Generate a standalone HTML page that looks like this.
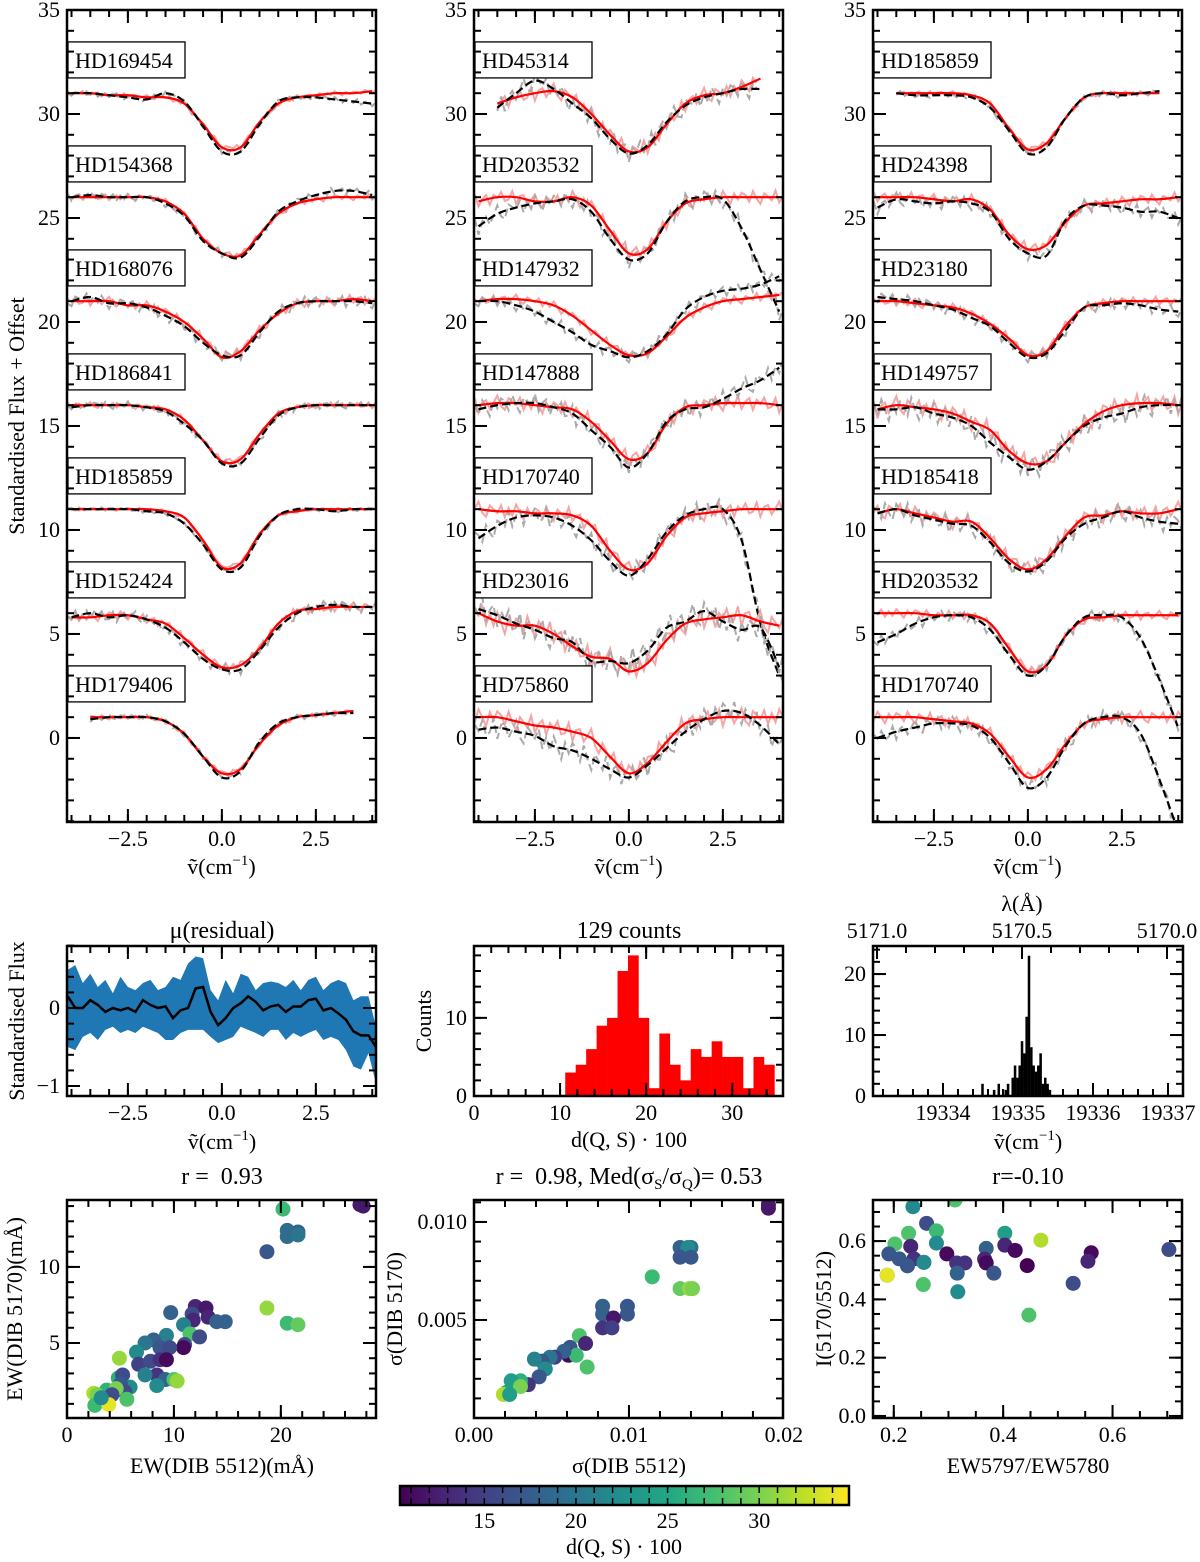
<!DOCTYPE html>
<html><head><meta charset="utf-8">
<style>body{margin:0;background:#fff}svg{display:block;font-family:"Liberation Serif",serif}</style>
</head><body>
<svg id="fig" width="1200" height="1562" viewBox="0 0 1200 1562">
<defs>
<linearGradient id="vir" x1="0" x2="1" y1="0" y2="0">
<stop offset="0" stop-color="#440154"/><stop offset="0.1" stop-color="#482475"/><stop offset="0.2" stop-color="#414487"/><stop offset="0.3" stop-color="#355f8d"/><stop offset="0.4" stop-color="#2a788e"/><stop offset="0.5" stop-color="#21918c"/><stop offset="0.6" stop-color="#22a884"/><stop offset="0.7" stop-color="#44bf70"/><stop offset="0.8" stop-color="#7ad151"/><stop offset="0.9" stop-color="#bddf26"/><stop offset="1" stop-color="#fde725"/>
</linearGradient>
</defs>
</svg>
<script>
// ---------- DATA ----------
const specNames = [
 ["HD169454","HD154368","HD168076","HD186841","HD185859","HD152424","HD179406"],
 ["HD45314","HD203532","HD147932","HD147888","HD170740","HD23016","HD75860"],
 ["HD185859","HD24398","HD23180","HD149757","HD185418","HD203532","HD170740"]];
// spectra sampled at x = -4 .. 4 step 0.5 (17 values); null = no data
const redP1 = [
 [31,31,30.9,30.9,30.8,30.8,30.5,29.5,28.4,28.4,29.6,30.5,30.8,30.9,31,31,31.1],
 [26,26,26,26,26,25.8,25.2,24,23.3,23.2,24.2,25.2,25.7,25.9,26,26,26],
 [21,21,21,20.8,20.8,20.5,20,19.2,18.3,18.6,19.6,20.4,20.9,21,21,21.1,21],
 [16,16,16,16,15.9,15.8,15.3,14.3,13.3,13.4,14.6,15.6,15.9,16,16,16,16],
 [11,11,11,11,11,10.9,10.6,9.5,8.2,8.4,9.8,10.7,10.9,11,11,11,11],
 [5.8,5.8,5.9,5.9,5.7,5.5,4.8,4,3.4,3.5,4.3,5.5,6.1,6.2,6.3,6.3,6.3],
 [null,1,1,1,1,0.8,0.2,-0.9,-1.7,-1.5,-0.3,0.6,1,1.1,1.2,1.3,null]];
const blackP1 = [
 [31,31,30.9,30.8,30.7,31,30.6,29.4,28.2,28.2,29.5,30.6,30.8,30.8,30.7,30.6,30.5],
 [26,26.1,26,26,26,25.7,25.1,23.9,23.3,23.1,24.1,25.3,25.8,26.1,26.3,26.3,26.1],
 [21,21.2,20.9,20.9,20.7,20.3,19.8,19,18.4,18.4,19.5,20.5,20.9,21,21,21,20.9],
 [15.9,16,16,16,15.9,15.7,15.1,14.3,13.2,13.2,14.4,15.5,15.9,16,16,16,16],
 [11,11,11,11,10.9,10.8,10.3,9.3,8.1,8.2,9.7,10.7,11,11,10.9,11,11],
 [5.8,6,5.8,5.9,5.7,5.3,4.6,3.8,3.3,3.3,4.2,5.3,6,6.3,6.4,6.3,6.3],
 [null,0.9,1,1,1,0.8,0.2,-0.9,-1.9,-1.6,-0.2,0.7,1,1.1,1.2,1.2,null]];
const redP2 = [
 [null,30.5,30.8,31,31.1,30.8,30,29,28.2,28.4,29.5,30.5,30.9,31,31.3,31.7,null],
 [25.8,26,26,25.8,25.8,26,25.6,24.4,23.3,23.5,24.8,25.7,25.9,26,26,26,26],
 [21,21.1,21.1,21,20.8,20.3,19.6,18.9,18.4,18.5,19.3,20.2,20.7,21,21.1,21.2,21.3],
 [16,16.1,16.1,16,15.9,15.8,15.2,14.3,13.4,13.7,15.1,15.9,16,16.1,16.1,16.1,16],
 [11,10.9,10.9,10.8,10.8,10.7,10.2,9,8.1,8.4,9.7,10.6,10.8,10.9,11,11,11],
 [6,5.6,5.4,5.4,5,4.4,3.9,3.8,3.2,3.6,4.7,5.5,5.7,5.8,5.9,5.6,5.4],
 [1,1,0.8,0.6,0.5,0.3,0,-0.9,-1.7,-1.2,-0.2,0.7,0.9,1,1,1,1]];
const blackP2 = [
 [null,30.3,31,31.6,31.2,30.5,29.8,28.8,28.1,28.5,29.6,30.4,30.8,31,31.2,31.2,null],
 [24.6,25.2,25.5,25.7,25.8,25.9,25.3,24,23,23.3,24.8,25.8,26,25.9,24.5,22.5,20.5],
 [21,21,20.8,20.5,20,19.5,18.9,18.6,18.3,18.6,19.4,20.6,21.2,21.5,21.6,21.8,22.2],
 [15.8,16,16.1,16.1,15.9,15.6,14.8,14,13,13.7,15.2,15.8,15.9,16.3,16.8,17.2,17.8],
 [9.6,10.2,10.6,10.7,10.6,10.2,9.5,8.5,7.8,8.6,9.9,10.7,11,11,9.5,5.5,3],
 [6.2,5.9,5.5,5.2,4.8,4.6,3.7,3.7,3.6,4.2,5.3,5.6,6.1,5.6,5.2,5.3,3.4],
 [0.4,0.5,0.3,0.1,-0.4,-0.6,-1,-1.5,-1.9,-1.3,-0.5,0.3,0.9,1.3,1.2,0.6,-0.3]];
const redP3 = [
 [null,31,31,31,31,30.9,30.5,29.3,28.3,28.6,29.8,30.8,31,31,31,31,null],
 [26,26,26,25.9,25.8,25.9,25.4,24.2,23.5,23.7,24.8,25.6,25.7,25.8,25.9,25.9,26],
 [21,21,20.9,20.8,20.7,20.4,19.9,19.2,18.4,18.6,19.8,20.7,20.9,21,21,21,21],
 [15.8,16,15.9,15.8,15.6,15.2,14.8,13.8,13.2,13.3,14.2,15.1,15.7,16,16.1,16.1,16],
 [10.8,11,10.8,10.6,10.4,10.4,9.6,8.6,8.1,8.6,9.7,10.6,10.7,10.9,10.8,10.8,11],
 [6,6,6,5.9,5.9,5.9,5.5,4.3,3.2,3.5,4.9,5.7,5.8,5.9,5.9,5.9,5.9],
 [1,1,1,0.9,0.8,0.7,0.2,-0.9,-1.9,-1.5,-0.3,0.7,0.9,1,1,1,1]];
const blackP3 = [
 [null,31,30.9,30.9,30.9,30.8,30.3,29.2,28.1,28.4,29.8,30.8,31,30.9,31,31.1,null],
 [25.5,25.9,25.8,25.7,25.8,25.7,25.3,24,23.3,23.2,24.9,25.6,25.6,25.5,25.3,25.3,25],
 [21.2,21.1,21,20.8,20.6,20.2,19.8,19,18.3,18.5,19.6,20.7,20.8,20.9,20.8,20.6,20.5],
 [15.8,15.8,15.9,15.6,15.4,15,14.2,13.5,12.9,13.3,14.2,15,15.4,15.6,15.9,16,16],
 [10.8,11,10.7,10.5,10.3,10.2,9.4,8.4,8,8.5,9.6,10.3,10.6,10.9,10.6,10.4,10.3],
 [4.6,5,5.5,5.8,5.9,5.8,5.2,4,3,3.5,4.9,5.8,5.9,5.8,4.8,2.8,0.5],
 [0,0.3,0.5,0.7,0.7,0.6,0,-1.2,-2.4,-1.9,-0.4,0.7,1,1,0.2,-2,-4.5]];
const noiseLevel = [[0.15,0.2,0.3,0.2,0.1,0.3,0.15],[0.5,0.45,0.3,0.5,0.5,0.7,0.6],[0.15,0.35,0.3,0.6,0.5,0.3,0.4]];
const jitter = [0.3,-0.6,0.8,-0.2,-0.9,0.5,0.1,-0.4,0.9,-0.7,0.2,0.6,-0.8,0.4,-0.1,0.7,-0.5,-0.3,0.8,-0.9,0.3,0.5,-0.6,0.1,0.9,-0.4,-0.8,0.6,0.2,-0.2,0.7,-0.7,0.4,-0.5,0.8,0.0,-0.9,0.5,-0.3,0.6];

// residual: x = -4.1 + k*0.2
const resMean = [0.15,0,0,0.1,0.04,-0.05,0,-0.03,0,-0.05,0.1,0.04,0,0.02,-0.13,-0.03,0,0.25,0.27,-0.05,-0.22,-0.13,0,0.06,0.15,0.08,-0.03,0.02,0.04,-0.05,0.02,0.02,0.1,0.12,-0.03,0,-0.07,-0.15,-0.3,-0.35,-0.35,-0.5];
const resUpper = [0.49,0.55,0.32,0.44,0.27,0.36,0.19,0.40,0.27,0.23,0.32,0.36,0.23,0.27,0.40,0.36,0.57,0.66,0.64,0.23,0.10,0.36,0.19,0.44,0.40,0.23,0.32,0.34,0.32,0.27,0.36,0.23,0.36,0.40,0.23,0.32,0.36,0.32,0.10,0.15,0.15,-0.24];
const resLower = [-0.5,-0.54,-0.37,-0.32,-0.41,-0.28,-0.24,-0.32,-0.28,-0.32,-0.24,-0.28,-0.32,-0.41,-0.41,-0.32,-0.28,-0.28,-0.28,-0.37,-0.45,-0.41,-0.37,-0.24,-0.28,-0.32,-0.37,-0.28,-0.28,-0.41,-0.32,-0.37,-0.32,-0.28,-0.41,-0.37,-0.41,-0.54,-0.75,-0.79,-0.58,-0.97];

// histogram of d(Q,S)*100
const histStart = 10.6, histWidth = 1.215;
const histCounts = [3,4,6,9,10,16,18,10,1,8,4,2,6,5,7,5,5,1,5,4];
// wavenumber histogram
const nuStart = 19334.51, nuWidth = 0.031;
const nuCounts = [2,0,0,0,0,1,0,2,0,0,1,2,0,3,5,3,5,9,7,13,23,8,5,4,5,7,2,3,2,1];

// scatter 1
const s1x=[27.4,27.7,20.2,20.6,21.6,20.6,21.6,18.7,18.7,20.6,21.6,12.0,13.0,9.7,11.7,13.2,11.8,14.0,14.8,10.9,11.5,12.4,11.0,10.9,9.3,8.1,7.3,6.5,8.7,9.6,6.7,7.8,8.7,9.3,4.9,8.4,7.3,4.8,5.2,9.2,10.0,10.3,8.4,5.9,5.0,5.4,3.7,2.5,2.8,4.6,4.2,5.6,2.6,3.9,3.2];
const s1y=[14.1,14.0,13.8,12.4,12.3,12.0,12.1,11.0,7.3,6.3,6.2,7.4,7.3,7.0,6.9,6.7,6.5,6.4,6.4,6.2,5.6,5.4,4.9,4.7,5.5,5.2,5.0,4.4,4.7,4.7,3.6,3.8,3.9,3.9,4.0,2.9,2.9,2.7,2.9,2.6,2.6,2.5,2.2,2.1,2.3,1.8,1.9,1.7,1.6,2.0,1.6,1.3,0.9,0.95,1.4];
const s1d=[12,12,27,19,18,19,20,17,31,27,29,13,12,18,16,13,13,18,18,21,28,16,16,11,21,18,20,22,17,16,15,16,14,11,31,14,21,26,16,18,28,31,22,22,17,16,26,32,30,30,16,28,27,34,22];
// scatter 2
const s2x=[0.0190,0.0190,0.0133,0.0140,0.0138,0.0133,0.0140,0.0115,0.0133,0.0139,0.0141,0.0083,0.0099,0.0083,0.0099,0.0090,0.0083,0.0089,0.0068,0.0072,0.0062,0.0061,0.0066,0.0058,0.0052,0.0049,0.0044,0.0046,0.0039,0.0073,0.0042,0.0035,0.0030,0.0024,0.0021,0.0030,0.0019,0.0023];
const s2y=[0.0109,0.0107,0.0087,0.0087,0.0087,0.0082,0.0082,0.0072,0.0066,0.0066,0.0066,0.0057,0.0057,0.0053,0.0053,0.0051,0.0046,0.0046,0.0042,0.0038,0.0036,0.0032,0.0032,0.0034,0.0031,0.0031,0.0029,0.0025,0.0030,0.0026,0.0021,0.0017,0.0019,0.0019,0.0013,0.0016,0.0012,0.0012];
const s2d=[12,12,18,19,22,17,17,27,29,31,30,18,17,18,17,12,14,15,28,13,17,11,27,18,15,20,17,22,21,28,17,14,26,24,24,30,32,24];
// scatter 3
const s3x=[0.235,0.312,0.260,0.227,0.202,0.278,0.278,0.231,0.191,0.210,0.237,0.225,0.255,0.255,0.297,0.315,0.330,0.316,0.254,0.317,0.188,0.188,0.369,0.366,0.369,0.383,0.403,0.403,0.422,0.444,0.469,0.447,0.528,0.561,0.555,0.703];
const s3y=[0.718,0.741,0.661,0.627,0.590,0.635,0.593,0.582,0.556,0.539,0.539,0.515,0.527,0.527,0.556,0.525,0.525,0.490,0.451,0.426,0.483,0.483,0.575,0.538,0.525,0.490,0.627,0.586,0.568,0.516,0.603,0.346,0.455,0.560,0.531,0.571];
const s3d=[22,28,16,28,28,27,22,13,17,17,14,17,15,22,11,14,14,18,28,22,22,34,18,13,11,17,24,13,11,10,32,28,16,11,13,16];
const cbarTicks=[15,20,25,30];

// ---------- RENDER ----------
const NS='http://www.w3.org/2000/svg';
const svg=document.getElementById('fig');
function mk(tag,attrs,parent){const e=document.createElementNS(NS,tag);for(const k in attrs)e.setAttribute(k,attrs[k]);(parent||svg).appendChild(e);return e;}
function panel(x0,x1,y0,y1,xmin,xmax,ymin,ymax){return {x0,x1,y0,y1,xmin,xmax,ymin,ymax,
 sx:v=>x0+(v-xmin)/(xmax-xmin)*(x1-x0), sy:v=>y1-(v-ymin)/(ymax-ymin)*(y1-y0)};}
const fmt=v=>String(v).replace('-','\u2212');
const TF=22;
function ticksX(p,vals,len,sides,labels,lab){
 vals.forEach(v=>{const x=p.sx(v); if(x<p.x0-0.5||x>p.x1+0.5)return;
  if(sides.includes('b')){const t=mk('line',{x1:x,x2:x,y1:p.y1,y2:p.y1-len,stroke:'#000','stroke-width':2});}
  if(sides.includes('t')){const t=mk('line',{x1:x,x2:x,y1:p.y0,y2:p.y0+len,stroke:'#000','stroke-width':2});}
 });
 if(labels){vals.forEach((v,i)=>{const x=p.sx(v);const t=mk('text',{x:x,y:p.y1+24,'text-anchor':'middle','font-size':TF});t.textContent=lab?lab[i]:fmt(v);});}
}
function ticksY(p,vals,len,labels,lab){
 vals.forEach(v=>{const y=p.sy(v); if(y<p.y0-0.5||y>p.y1+0.5)return;
  const a=mk('line',{x1:p.x0,x2:p.x0+len,y1:y,y2:y,stroke:'#000','stroke-width':2});
  const b=mk('line',{x1:p.x1,x2:p.x1-len,y1:y,y2:y,stroke:'#000','stroke-width':2});
 });
 if(labels){vals.forEach((v,i)=>{const t=mk('text',{x:p.x0-7,y:p.sy(v)+7,'text-anchor':'end','font-size':TF});t.textContent=lab?lab[i]:fmt(v);});}
}
function range(a,b,s){const r=[];for(let v=a;v<=b+1e-9;v+=s)r.push(Math.round(v*1e6)/1e6);return r;}
function frame(p,name){const r=mk('rect',{x:p.x0,y:p.y0,width:p.x1-p.x0,height:p.y1-p.y0,fill:'none',stroke:'#000','stroke-width':2.5});}
function clip(p,id){const d=svg.querySelector('defs');const c=mk('clipPath',{id:id},d);mk('rect',{x:p.x0,y:p.y0,width:p.x1-p.x0,height:p.y1-p.y0},c);const g=mk('g',{'clip-path':'url(#'+id+')'});return g;}
function label(x,y,txt,size,rot,name,html){const t=mk('text',{x:x,y:y,'text-anchor':'middle','font-size':size});t.setAttribute('style','white-space:pre');if(rot)t.setAttribute('transform','rotate(-90 '+x+' '+y+')');if(html)t.innerHTML=txt;else t.textContent=txt;return t;}
const nuLabel='\u1e7d(cm<tspan dy="-9" font-size="15">\u22121</tspan><tspan dy="9">)</tspan>';
const VIR=['#440154','#482475','#414487','#355f8d','#2a788e','#21918c','#22a884','#44bf70','#7ad151','#bddf26','#fde725'];
function hex(h){return [1,3,5].map(i=>parseInt(h.substr(i,2),16));}
function viridis(d){let t=(d-10.4)/(34.9-10.4);t=Math.max(0,Math.min(1,t))*10;const i=Math.min(9,Math.floor(t)),f=t-i;const a=hex(VIR[i]),b=hex(VIR[i+1]);return 'rgb('+a.map((v,k)=>Math.round(v+(b[k]-v)*f)).join(',')+')';}

const xs17=range(-4,4,0.5);
function smoothPath(p,arr){let segs=[],cur=[];arr.forEach((v,i)=>{if(v===null){if(cur.length)segs.push(cur);cur=[];}else cur.push([p.sx(xs17[i]),p.sy(v)]);});if(cur.length)segs.push(cur);
 let d='';segs.forEach(s=>{d+='M'+s[0][0]+','+s[0][1];for(let i=0;i<s.length-1;i++){const p0=s[Math.max(0,i-1)],p1=s[i],p2=s[i+1],p3=s[Math.min(s.length-1,i+2)];
  d+='C'+(p1[0]+(p2[0]-p0[0])/6)+','+(p1[1]+(p2[1]-p0[1])/6)+' '+(p2[0]-(p3[0]-p1[0])/6)+','+(p2[1]-(p3[1]-p1[1])/6)+' '+p2[0]+','+p2[1];}});return d;}
function noisyPath(p,arr,level,off){let d='',pen=false;let k=0;for(let x=-4.1;x<=4.1+1e-9;x+=0.1,k++){const f=(x+4)/0.5;const i=Math.floor(f);let v=null;
  if(x<-4){v=arr[0];}else if(i>=16){v=arr[16];}else{const a=arr[i],b=arr[i+1];if(a!==null&&b!==null)v=a+(b-a)*(f-i);}
  if(v===null){pen=false;continue;}v+=jitter[(k+off)%jitter.length]*level;d+=(pen?'L':'M')+p.sx(x).toFixed(1)+','+p.sy(v).toFixed(1);pen=true;}return d;}

const topX=[[67,376],[474,783],[873,1182]];
const reds=[redP1,redP2,redP3], blacks=[blackP1,blackP2,blackP3];
topX.forEach((xx,pi)=>{
 const p=panel(xx[0],xx[1],10,822,-4.12,4.1,-4.04,35);
 const g=clip(p,'c'+pi);
 for(let s=0;s<7;s++){
  const L=noiseLevel[pi][s];
  const pk=mk('path',{d:noisyPath(p,reds[pi][s],L*0.8,s*5+3),fill:'none',stroke:'#f6a5a5','stroke-width':2},g);
  const gr=mk('path',{d:noisyPath(p,blacks[pi][s],L,s*7+11),fill:'none',stroke:'#aaa','stroke-width':2,'stroke-dasharray':'8,4'},g);
  const rd=mk('path',{d:smoothPath(p,reds[pi][s]),fill:'none',stroke:'#f00','stroke-width':2.2},g);
  const bk=mk('path',{d:smoothPath(p,blacks[pi][s]),fill:'none',stroke:'#000','stroke-width':2.2,'stroke-dasharray':'8,4'},g);
  const by=p.sy(32.6-5*s);
  const bx=mk('rect',{x:p.x0+1,y:by-18,width:117,height:36,fill:'#fff',stroke:'#000','stroke-width':1.3});
  const t=mk('text',{x:p.x0+8,y:by+8,'font-size':22});t.textContent=specNames[pi][s];
 }
 ticksX(p,range(-4,4,0.5),7,'bt',false);ticksX(p,[-2.5,0,2.5],13,'bt',true,['\u22122.5','0.0','2.5']);
 ticksY(p,range(-4,35,1),7,false);ticksY(p,range(0,35,5),13,true);
 frame(p,'spectra-frame-'+(pi+1));
 label((p.x0+p.x1)/2,874,nuLabel,22,false,'x-axis-title',true);
});
label(24,416,'Standardised Flux + Offset',22,true,'y-axis-title');

// residual panel
{const p=panel(67,376,946,1096,-4.12,4.1,-1.128,0.795);
 const g=clip(p,'cr');
 const xr=resMean.map((v,k)=>-4.1+k*0.2);
 let d='M'+xr.map((x,k)=>p.sx(x)+','+p.sy(resUpper[k])).join('L')+'L'+xr.slice().reverse().map((x,k)=>p.sx(x)+','+p.sy(resLower[resLower.length-1-k])).join('L')+'Z';
 const b=mk('path',{d:d,fill:'#1f77b4'},g);
 const m=mk('path',{d:'M'+xr.map((x,k)=>p.sx(x)+','+p.sy(resMean[k])).join('L'),fill:'none',stroke:'#000','stroke-width':2.5},g);
 ticksX(p,range(-4,4,0.5),7,'bt',false);ticksX(p,[-2.5,0,2.5],13,'bt',true,['\u22122.5','0.0','2.5']);
 ticksY(p,range(-1.2,0.8,0.2),7,false);ticksY(p,[-1,0],13,true,['\u22121','0']);
 frame(p,'residual-frame');
 label(222,938,'\u03bc(residual)',24,false,'residual-title');
 label(222,1149,nuLabel,22,false,'x-axis-title',true);
 label(24,1021,'Standardised Flux',22,true,'y-axis-title');}

// histogram
{const p=panel(474,783,946,1096,0,35.9,0,19.2);
 histCounts.forEach((c,i)=>{const x0=p.sx(histStart+i*histWidth),x1=p.sx(histStart+(i+1)*histWidth);
  const r=mk('rect',{x:x0,y:p.sy(c),width:x1-x0+0.3,height:p.sy(0)-p.sy(c),fill:'#f00'});});
 ticksX(p,range(0,34,2),7,'bt',false);ticksX(p,[0,10,20,30],13,'bt',true);
 ticksY(p,range(0,18,2),7,false);ticksY(p,[0,10],13,true);
 frame(p,'histogram-frame');
 label(629,938,'129 counts',24,false,'histogram-title');
 label(629,1147,'d(Q, S) \u00b7 100',22,false,'x-axis-title');
 label(431,1021,'Counts',22,true,'y-axis-title');}

// wavenumber histogram
{const p=panel(873,1183,946,1096,19333.067,19337.2,0,24.6);
 nuCounts.forEach((c,i)=>{if(!c)return;const x0=p.sx(nuStart+i*nuWidth),x1=p.sx(nuStart+(i+1)*nuWidth);
  const r=mk('rect',{x:x0,y:p.sy(c),width:x1-x0+0.2,height:p.sy(0)-p.sy(c),fill:'#000'});});
 ticksX(p,range(19333.2,19337.2,0.2),7,'b',false);ticksX(p,[19334,19335,19336,19337],13,'b',true);
 ticksY(p,range(0,24,2),7,false);ticksY(p,[0,10,20],13,true);
 const lam=v=>877+(5171-v)*290;
 for(let v=5171;v>=5169.95;v-=0.1){const x=lam(v);const maj=Math.abs(v*2-Math.round(v*2))<1e-6;const t=mk('line',{x1:x,x2:x,y1:946,y2:946+(maj?13:7),stroke:'#000','stroke-width':2});}
 ['5171.0','5170.5','5170.0'].forEach(s=>{const t=mk('text',{x:lam(+s),y:938,'text-anchor':'middle','font-size':TF});t.textContent=s;});
 frame(p,'nu-histogram-frame');
 label(1022,911,'\u03bb(\u00c5)',22,false,'lambda-axis-title');
 label(1028,1149,nuLabel,22,false,'x-axis-title',true);}

// scatter panels
function scatter(p,X,Y,D,name){const g=clip(p,'cs'+name);
 X.forEach((x,i)=>{const c=mk('circle',{cx:p.sx(x),cy:p.sy(Y[i]),r:7.5,fill:viridis(D[i])},g);});}
{const p=panel(67,376,1200,1418,0,28.9,0.07,14.4);
 scatter(p,s1x,s1y,s1d,'ew-scatter');
 ticksX(p,range(0,28,2),7,'bt',false);ticksX(p,[0,10,20],13,'bt',true);
 ticksY(p,range(1,14,1),7,false);ticksY(p,[5,10],13,true);
 frame(p,'ew-frame');
 label(222,1184,'r =  0.93',24,false,'ew-title');
 label(222,1473,'EW(DIB 5512)(m\u00c5)',22,false,'x-axis-title');
 label(22,1309,'EW(DIB 5170)(m\u00c5)',22,true,'y-axis-title');}
{const p=panel(474,783,1200,1418,0,0.01994,0.0,0.01112);
 scatter(p,s2x,s2y,s2d,'sigma-scatter');
 ticksX(p,range(0,0.02,0.002),7,'bt',false);ticksX(p,[0,0.01,0.02],13,'bt',true,['0.00','0.01','0.02']);
 ticksY(p,range(0.001,0.011,0.001),7,false);ticksY(p,[0.005,0.01],13,true,['0.005','0.010']);
 frame(p,'sigma-frame');
 const t=label(629,1184,'',24,false,'sigma-title',true);t.innerHTML='r =  0.98, Med(\u03c3<tspan dy="5" font-size="15">S</tspan><tspan dy="-5">/\u03c3</tspan><tspan dy="5" font-size="15">Q</tspan><tspan dy="-5">)= 0.53</tspan>';
 label(629,1473,'\u03c3(DIB 5512)',22,false,'x-axis-title');
 label(402,1309,'\u03c3(DIB 5170)',22,true,'y-axis-title');}
{const p=panel(873,1182,1200,1418,0.162,0.727,-0.007,0.741);
 scatter(p,s3x,s3y,s3d,'ratio-scatter');
 ticksX(p,range(0.2,0.7,0.05),7,'bt',false);ticksX(p,[0.2,0.4,0.6],13,'bt',true);
 ticksY(p,range(0,0.7,0.05),7,false);ticksY(p,[0,0.2,0.4,0.6],13,true,['0.0','0.2','0.4','0.6']);
 frame(p,'ratio-frame');
 label(1028,1184,'r=-0.10',24,false,'ratio-title');
 label(1028,1473,'EW5797/EW5780',22,false,'x-axis-title');
 label(831,1309,'I(5170/5512)',22,true,'y-axis-title');}

// colorbar
{const p=panel(400,849,1486,1505,10.4,34.9,0,1);
 const r=mk('rect',{x:400,y:1486,width:449,height:19,fill:'url(#vir)'});
 range(11,34,1).forEach(v=>{const x=p.sx(v);const t=mk('line',{x1:x,x2:x,y1:1505,y2:1498,stroke:'#000','stroke-width':1.5});const u=mk('line',{x1:x,x2:x,y1:1486,y2:1493,stroke:'#000','stroke-width':1.5});});
 cbarTicks.forEach(v=>{const t=mk('text',{x:p.sx(v),y:1528,'text-anchor':'middle','font-size':TF});t.textContent=v;});
 frame(p,'colorbar-frame');
 label(624,1554,'d(Q, S) \u00b7 100',22,false,'colorbar-title');}
</script>
</body></html>
